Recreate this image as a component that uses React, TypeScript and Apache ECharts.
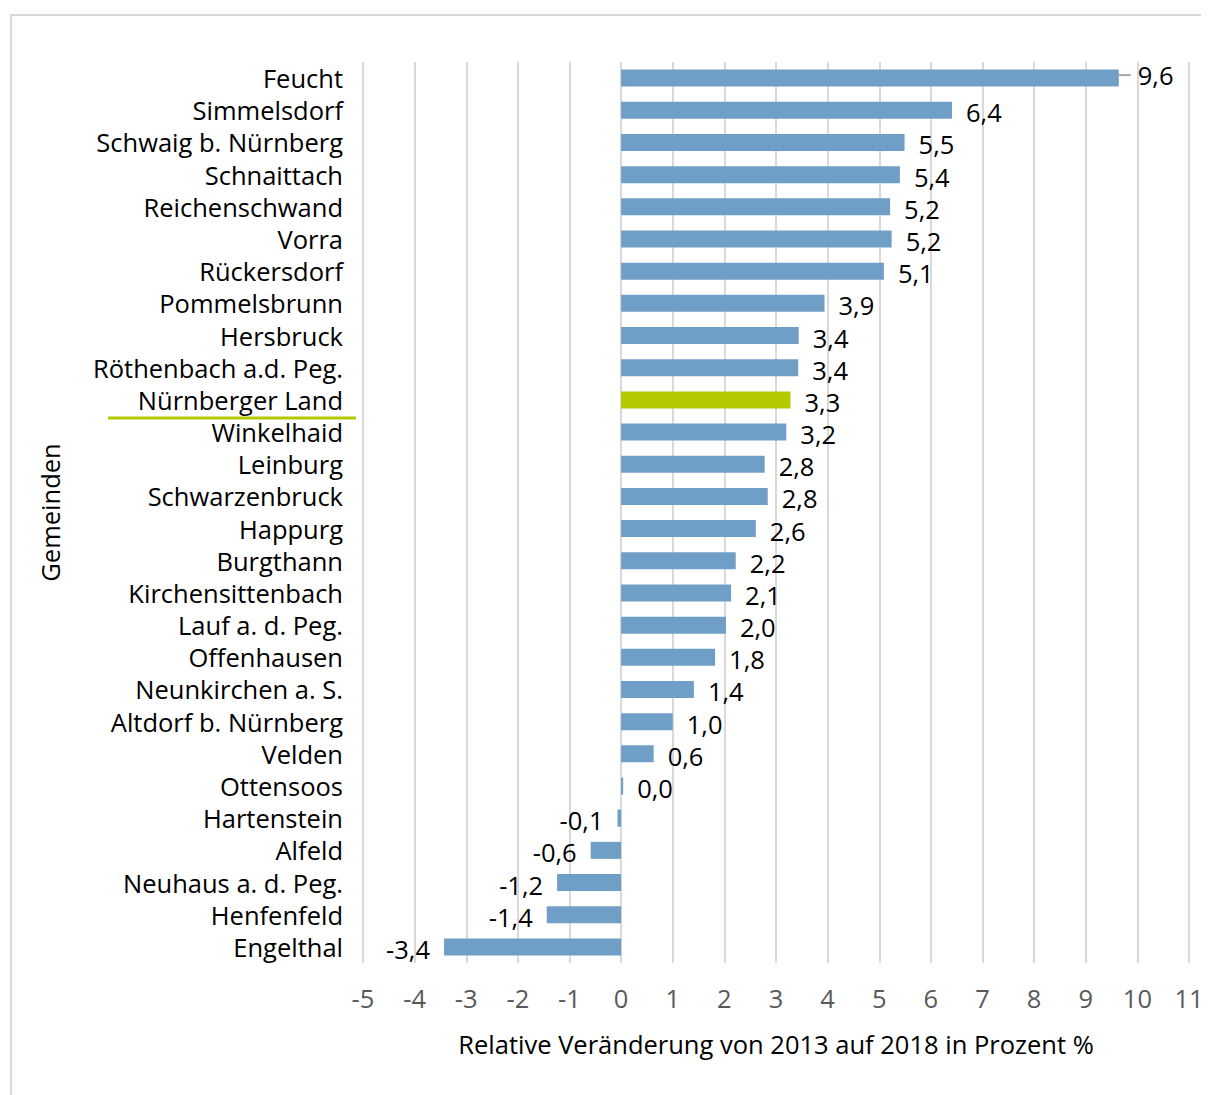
import React, { useEffect, useRef } from "react";
import * as echarts from "echarts";

const categories = [
  "Feucht", "Simmelsdorf", "Schwaig b. Nürnberg", "Schnaittach", "Reichenschwand", "Vorra",
  "Rückersdorf", "Pommelsbrunn", "Hersbruck", "Röthenbach a.d. Peg.", "Nürnberger Land",
  "Winkelhaid", "Leinburg", "Schwarzenbruck", "Happurg", "Burgthann", "Kirchensittenbach",
  "Lauf a. d. Peg.", "Offenhausen", "Neunkirchen a. S.", "Altdorf b. Nürnberg", "Velden",
  "Ottensoos", "Hartenstein", "Alfeld", "Neuhaus a. d. Peg.", "Henfenfeld", "Engelthal",
];

const values = [
  9.64, 6.41, 5.49, 5.4, 5.21, 5.24, 5.09, 3.94, 3.44, 3.43, 3.28, 3.2, 2.78, 2.84, 2.61,
  2.22, 2.13, 2.03, 1.82, 1.41, 1.0, 0.63, 0.04, -0.07, -0.59, -1.24, -1.44, -3.43,
];

const highlighted = "Nürnberger Land";
const xTicks = { min: -5, max: 11, interval: 1 };
const xName = "Relative Veränderung von 2013 auf 2018 in Prozent %";
const yName = "Gemeinden";

const FONT = "'Open Sans', sans-serif";
const FS = 25.5;
const BLUE = "#6f9fc6";
const GREEN = "#b4c800";

const fmt = (v: number) => (Math.round(v * 10) / 10).toFixed(1).replace(".", ",");

export default function App() {
  const ref = useRef<HTMLDivElement>(null);
  useEffect(() => {
    if (!ref.current) return;
    const chart = echarts.init(ref.current, undefined, { renderer: "svg" });
    const gridLeft = 355;
    const data = values.map((v, i) => {
      const item: any = {
        value: v,
        itemStyle: { color: categories[i] === highlighted ? GREEN : BLUE },
        label: { position: v < 0 ? "left" : "right" },
      };
      if (i === 0) {
        item.label = {
          position: "right",
          distance: 0,
          offset: [0, -3],
          formatter: "{ln|}{v|" + fmt(v) + "}",
        };
      }
      return item;
    });
    chart.setOption({
      animation: false,
      grid: { left: gridLeft, right: 20, top: 54, bottom: 132, containLabel: false },
      xAxis: {
        type: "value",
        min: xTicks.min,
        max: xTicks.max,
        interval: xTicks.interval,
        axisLine: { show: false },
        axisTick: { show: false },
        splitLine: { show: true, lineStyle: { color: "#d9d9d9", width: 2 } },
        axisLabel: { color: "#595959", fontSize: FS, fontFamily: FONT, margin: 22 },
        name: xName,
        nameLocation: "middle",
        nameGap: 68,
        nameTextStyle: { color: "#000", fontSize: FS, fontFamily: FONT },
      },
      yAxis: {
        type: "category",
        inverse: true,
        data: categories,
        axisLine: { show: false, onZero: false },
        axisTick: { show: false },
        axisLabel: {
          color: "#000",
          fontSize: FS,
          fontFamily: FONT,
          margin: 20,
          interval: 0,
          hideOverlap: false,
          lineHeight: 28,
        },
        name: yName,
        nameLocation: "middle",
        nameGap: 300,
        nameRotate: 90,
        nameTextStyle: { color: "#000", fontSize: FS, fontFamily: FONT },
      },
      series: [
        {
          type: "bar",
          data,
          barWidth: 17,
          label: {
            show: true,
            distance: 14,
            offset: [0, 2],
            color: "#000",
            fontSize: FS,
            fontFamily: FONT,
            formatter: (p: any) => fmt(p.value),
            rich: {
              ln: { width: 12, height: 2, backgroundColor: "#a6a6a6" },
              v: { color: "#000", fontSize: FS, fontFamily: FONT, padding: [0, 0, 0, 7] },
            },
          },
        },
      ],
    });
    const idx = categories.indexOf(highlighted);
    const yc = chart.convertToPixel({ yAxisIndex: 0 }, categories[idx]) as number;
    const band = (chart.getHeight() - 54 - 132) / categories.length;
    chart.setOption({
      graphic: [
        {
          type: "rect",
          shape: { x: 3, y: 7, width: 1400, height: 1300 },
          style: { fill: "none", stroke: "#d9d9d9", lineWidth: 2 },
          silent: true,
        },
        {
          type: "line",
          shape: { x1: gridLeft - 255, y1: yc + band / 2 + 2, x2: gridLeft - 7, y2: yc + band / 2 + 2 },
          style: { stroke: GREEN, lineWidth: 3 },
          silent: true,
        },
      ],
    });
    return () => chart.dispose();
  }, []);
  return <div ref={ref} style={{ width: 1201, height: 1087 }} />;
}
